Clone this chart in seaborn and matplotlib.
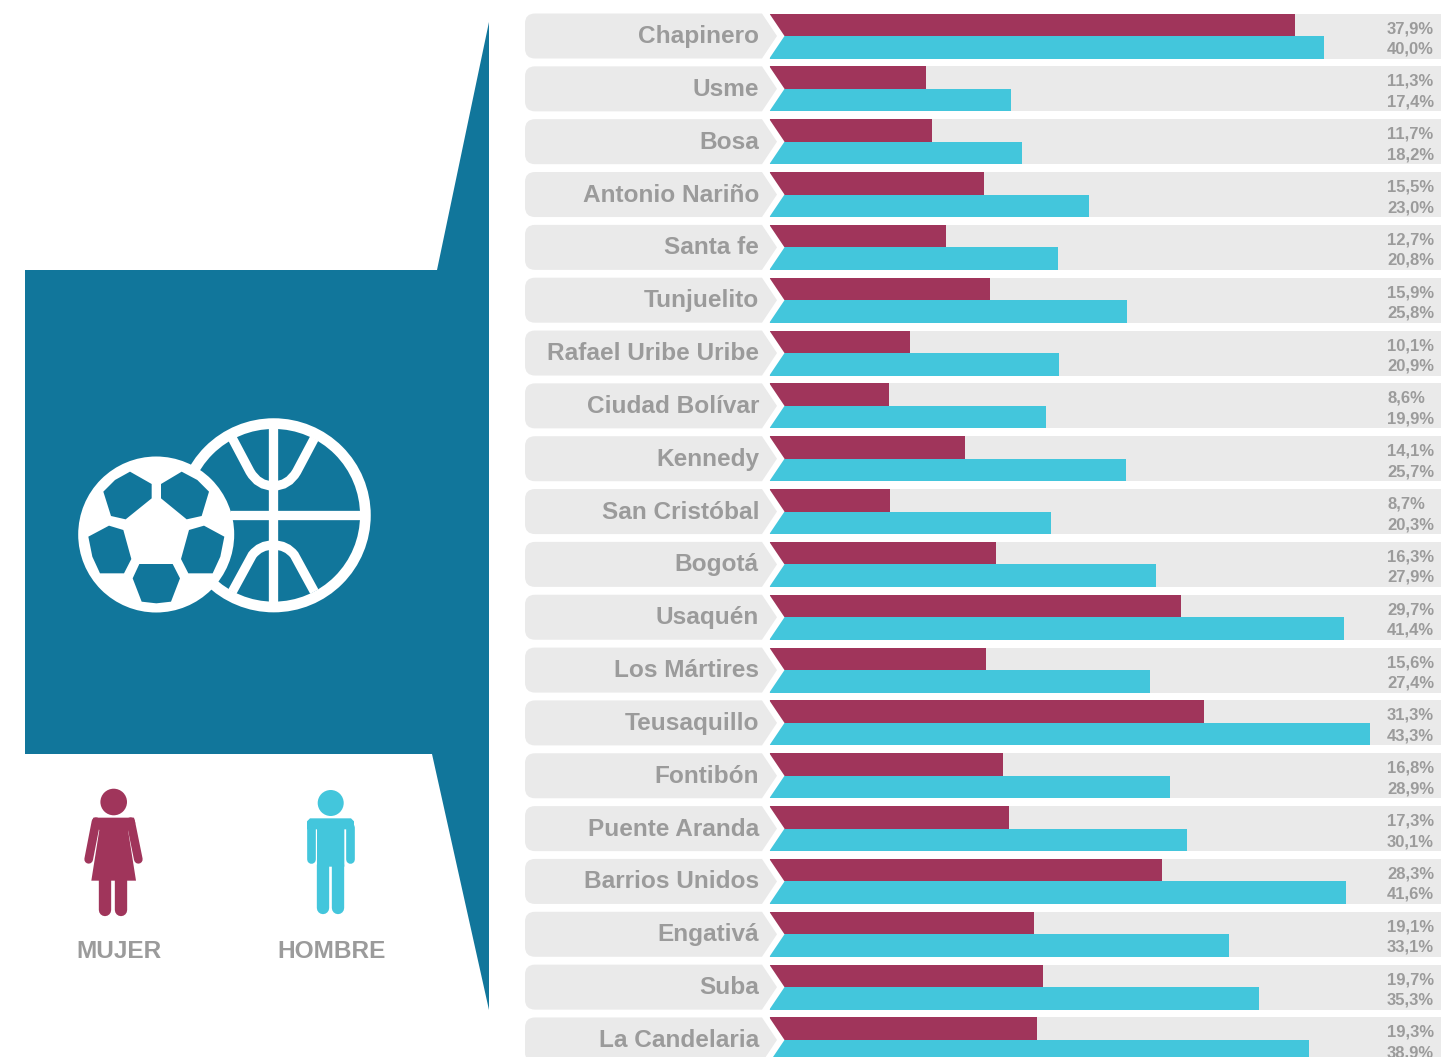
import matplotlib
matplotlib.use('Agg')
import matplotlib.pyplot as plt
import pandas as pd
import seaborn as sns
from matplotlib.patches import Circle, PathPatch, Polygon, Rectangle
from matplotlib.path import Path
from matplotlib.transforms import Affine2D

localidades = ['Chapinero', 'Usme', 'Bosa', 'Antonio Nariño', 'Santa fe', 'Tunjuelito',
               'Rafael Uribe Uribe', 'Ciudad Bolívar', 'Kennedy', 'San Cristóbal', 'Bogotá',
               'Usaquén', 'Los Mártires', 'Teusaquillo', 'Fontibón', 'Puente Aranda',
               'Barrios Unidos', 'Engativá', 'Suba', 'La Candelaria']
mujer = [37.9, 11.3, 11.7, 15.5, 12.7, 15.9, 10.1, 8.6, 14.1, 8.7,
         16.3, 29.7, 15.6, 31.3, 16.8, 17.3, 28.3, 19.1, 19.7, 19.3]
hombre = [40.0, 17.4, 18.2, 23.0, 20.8, 25.8, 20.9, 19.9, 25.7, 20.3,
          27.9, 41.4, 27.4, 43.3, 28.9, 30.1, 41.6, 33.1, 35.3, 38.9]

W, H = 1441, 1057
ROSA, CIAN, AZUL = '#A0355B', '#43C6DC', '#11769B'
GRIS, TEXTO = '#EAEAEA', '#9B9B9B'
ROW0, PITCH, ROW_H = 36.0, 52.84, 45.0
X0, PX_UNIT = 769.5, 13.87

df = pd.DataFrame({'localidad': localidades, 'MUJER': mujer, 'HOMBRE': hombre})
df = df.melt(id_vars='localidad', var_name='sexo', value_name='pct')

plt.rcParams['font.family'] = ['Liberation Sans', 'DejaVu Sans']
fig = plt.figure(figsize=(W / 100, H / 100), dpi=100)
ax = fig.add_axes([0, 0, 1, 1])
sns.barplot(data=df, y='localidad', x='pct', hue='sexo', order=localidades,
            hue_order=['MUJER', 'HOMBRE'], palette=[ROSA, CIAN], saturation=1,
            width=ROW_H / PITCH, gap=0, linewidth=0, legend=False, ax=ax)
ax.set_xlim(-X0 / PX_UNIT, (W - X0) / PX_UNIT)
ax.set_ylim((H - ROW0) / PITCH, -ROW0 / PITCH)
ax.axis('off')

# everything that is not a bar is placed in image pixels
px = Affine2D().scale(1 / W, -1 / H).translate(0, 1) + ax.transAxes


def zoom_pts(pts, x0, y0):
    return [(x0 + x / 3, y0 + y / 3) for x, y in pts]


def limb(p0, p1, width, color, x0, y0):
    (xa, ya), (xb, yb) = zoom_pts([p0, p1], x0, y0)
    ax.plot([xa, xb], [ya, yb], color=color, lw=width * 0.72 / 3, solid_capstyle='round',
            transform=px, zorder=2)


for i, nombre in enumerate(localidades):
    c = ROW0 + i * PITCH
    top, bot = c - ROW_H / 2, c + ROW_H / 2
    ax.add_patch(Rectangle((769, top), W - 769, ROW_H, fc=GRIS, lw=0, transform=px, zorder=0.5))
    # white wedge that cuts the start of the bars, the label tab sits on top of it
    ax.add_patch(Polygon([(760, top - 0.5), (769, top - 0.5), (784.5, c), (769, bot + 0.5), (760, bot + 0.5)],
                         fc='white', lw=0, transform=px, zorder=3))
    verts = [(535, top), (762, top), (777, c), (762, bot), (535, bot), (525, bot), (525, bot - 10),
             (525, top + 10), (525, top), (535, top)]
    codes = [Path.MOVETO, Path.LINETO, Path.LINETO, Path.LINETO, Path.LINETO, Path.CURVE3, Path.CURVE3,
             Path.LINETO, Path.CURVE3, Path.CURVE3]
    ax.add_patch(PathPatch(Path(verts, codes), fc=GRIS, lw=0, transform=px, zorder=3.5))
    ax.text(759, c + 0.5, nombre, ha='right', va='center', color=TEXTO, fontsize=17.6,
            fontweight='bold', transform=px, zorder=4)
    ax.text(1387, c - 7.5, f'{mujer[i]:.1f}%'.replace('.', ','), ha='left', va='center', color=TEXTO,
            fontsize=12, fontweight='bold', transform=px, zorder=4)
    ax.text(1387, c + 13, f'{hombre[i]:.1f}%'.replace('.', ','), ha='left', va='center', color=TEXTO,
            fontsize=12, fontweight='bold', transform=px, zorder=4)

# blue panel
ax.add_patch(Polygon([(25, 270), (437, 270), (489, 22), (489, 1010), (432, 754), (25, 754)],
                     fc=AZUL, lw=0, transform=px, zorder=1))

# basketball
ZX, ZY = 60, 400
ax.add_patch(Circle((273.7, 515.3), 91.7, fc='none', ec='white', lw=7.7, transform=px, zorder=2))
LW = 6.7
lines = [[(640, 60), (640, 630)], [(510, 346), (915, 346)]]
for ln in lines:
    ax.add_patch(PathPatch(Path(zoom_pts(ln, ZX, ZY)), fc='none', ec='white', lw=LW, transform=px, zorder=2))
upper = [(517, 115), (570, 215), (595, 258), (640, 258), (685, 258), (710, 215), (763, 115)]
lower = [(517, 575), (577, 465), (600, 435), (640, 435), (680, 435), (703, 465), (763, 575)]
arc_codes = [Path.MOVETO, Path.LINETO, Path.CURVE3, Path.CURVE3, Path.CURVE3, Path.CURVE3, Path.LINETO]
for arc in (upper, lower):
    ax.add_patch(PathPatch(Path(zoom_pts(arc, ZX, ZY), arc_codes), fc='none', ec='white', lw=LW,
                           transform=px, zorder=2))

# soccer ball
ax.add_patch(Circle((156.2, 534.5), 78, fc='white', lw=0, transform=px, zorder=2.5))
pentagons = [
    [(210, 215), (275, 252), (275, 295), (197, 358), (153, 348), (130, 275), (165, 240)],
    [(365, 215), (303, 252), (303, 295), (380, 358), (425, 348), (447, 275), (412, 240)],
    [(147, 377), (190, 390), (214, 477), (192, 520), (120, 520), (97, 470), (85, 410)],
    [(432, 377), (387, 390), (363, 477), (385, 520), (458, 520), (481, 470), (493, 410)],
    [(238, 492), (338, 492), (360, 535), (333, 605), (289, 610), (245, 605), (218, 535)],
]
for p in pentagons:
    ax.add_patch(Polygon(zoom_pts(p, ZX, ZY), fc=AZUL, lw=0, transform=px, zorder=2.6))

# legend figures
LX, LY = 60, 770
ax.add_patch(Circle((113.7, 802), 13.3, fc=ROSA, lw=0, transform=px, zorder=2))
dress = [(100, 143), (222, 143), (226, 160), (204, 180), (228, 332), (94, 332), (118, 180), (96, 160)]
ax.add_patch(Polygon(zoom_pts(dress, LX, LY), fc=ROSA, lw=0, transform=px, zorder=2))
limb((108, 155), (86, 268), 26, ROSA, LX, LY)
limb((212, 155), (235, 268), 26, ROSA, LX, LY)
limb((136, 330), (136, 420), 37, ROSA, LX, LY)
limb((184, 330), (184, 420), 37, ROSA, LX, LY)

ax.add_patch(Circle((330.7, 803), 13, fc=CIAN, lw=0, transform=px, zorder=2))
torso = [(750, 145), (873, 145), (882, 154), (882, 178), (853, 178), (853, 290), (771, 290), (771, 178), (741, 178),
         (741, 154)]
ax.add_patch(Polygon(zoom_pts(torso, LX, LY), fc=CIAN, lw=0, transform=px, zorder=2))
limb((754, 170), (754, 268), 26, CIAN, LX, LY)
limb((869, 170), (869, 268), 26, CIAN, LX, LY)
limb((790, 285), (790, 414), 37, CIAN, LX, LY)
limb((834, 285), (834, 414), 37, CIAN, LX, LY)

ax.text(119, 951, 'MUJER', ha='center', va='center', color=TEXTO, fontsize=17.6, fontweight='bold', transform=px)
ax.text(331.5, 951, 'HOMBRE', ha='center', va='center', color=TEXTO, fontsize=17.6, fontweight='bold', transform=px)

fig.savefig('out.png', dpi=100, facecolor='white')
plt.close(fig)
